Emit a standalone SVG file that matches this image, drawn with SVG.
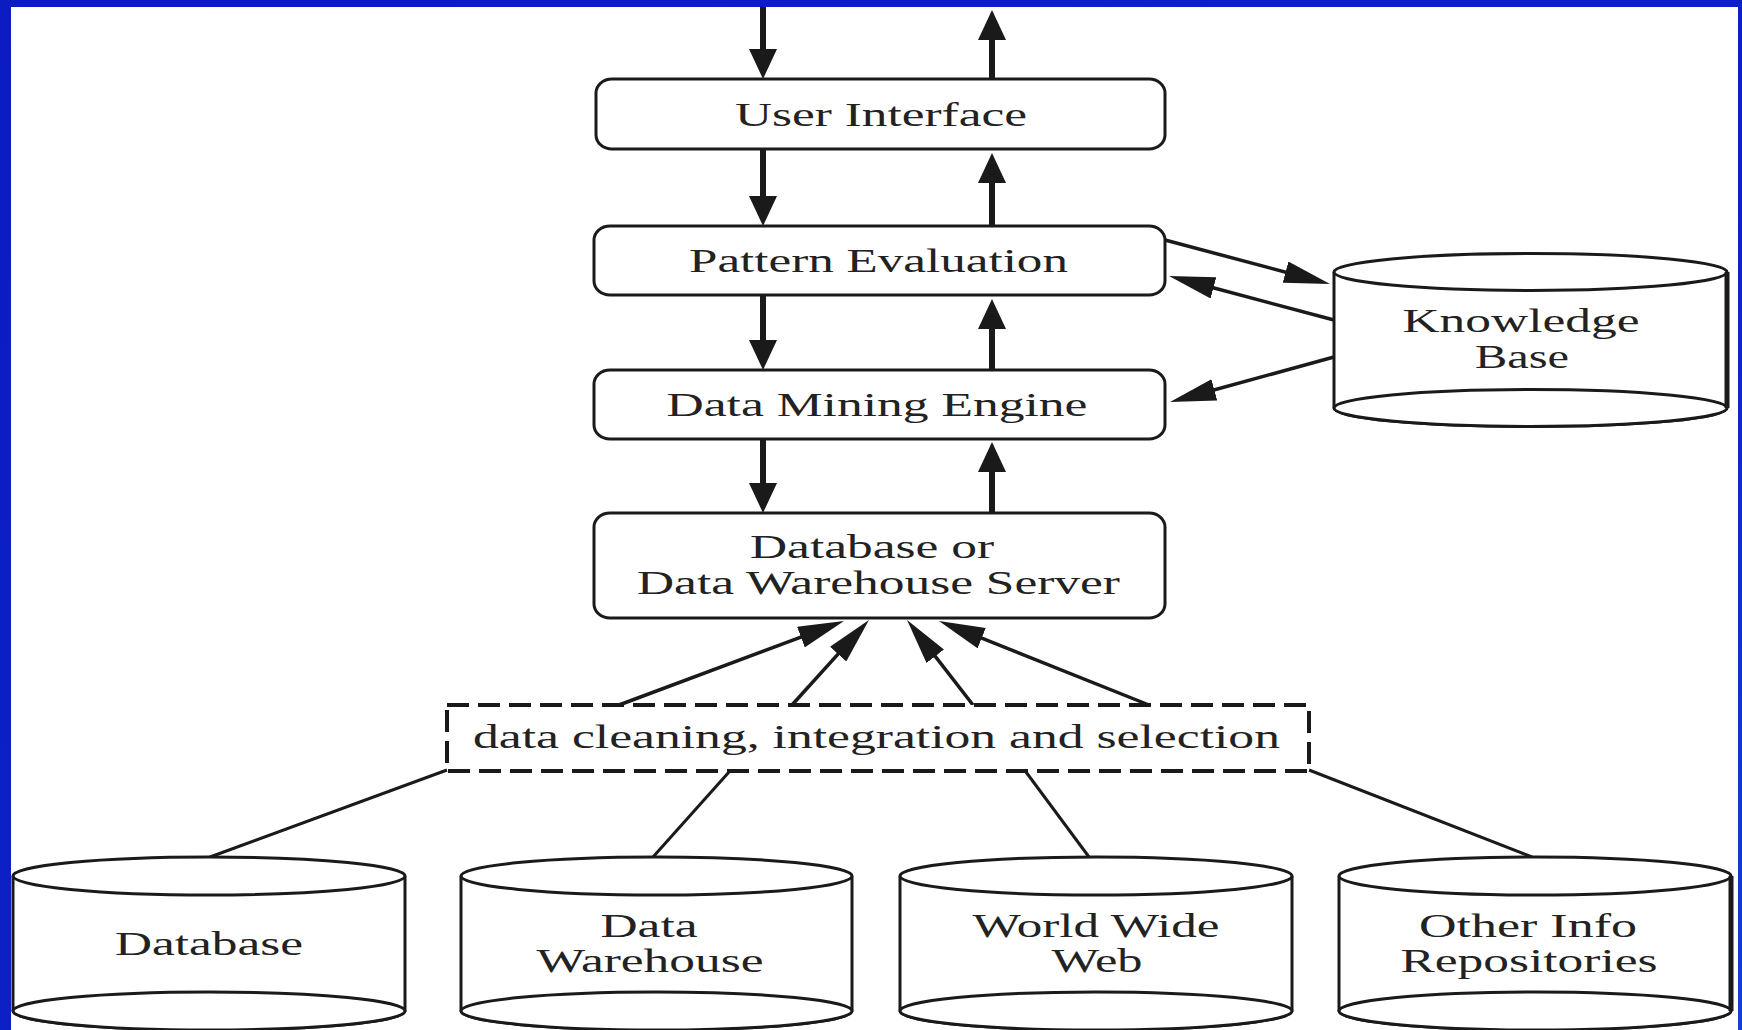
<svg xmlns="http://www.w3.org/2000/svg" width="1742" height="1030" viewBox="0 0 1742 1030">
<style>
.box{fill:#fff;stroke:#1a1a1a;stroke-width:3}
.cyl{fill:#fff;stroke:#1a1a1a;stroke-width:3}
.dash{fill:#fff;stroke:#1a1a1a;stroke-width:4;stroke-dasharray:22 9}
.t{font-family:"Liberation Serif","Times New Roman",serif;font-size:33px;fill:#222;text-anchor:middle}
.v{stroke:#1a1a1a;stroke-width:6;fill:none}
.d{stroke:#1a1a1a;stroke-width:3.5;fill:none}
.p{stroke:#1a1a1a;stroke-width:3;fill:none}
</style>
<defs>
<linearGradient id="bg" x1="0" y1="0" x2="1" y2="1">
<stop offset="0" stop-color="#0a1cc2"/>
<stop offset="0.6" stop-color="#0b22c6"/>
<stop offset="1" stop-color="#1440d0"/>
</linearGradient>
<marker id="vh" markerUnits="userSpaceOnUse" viewBox="0 0 30 28" markerWidth="30" markerHeight="28" refX="4" refY="14" orient="auto">
<path d="M0,0 L30,14 L0,28 z" fill="#1a1a1a"/>
</marker>
<marker id="dh" markerUnits="userSpaceOnUse" viewBox="0 0 46 22" markerWidth="46" markerHeight="22" refX="10" refY="11" orient="auto">
<path d="M0,0 L46,11 L0,22 z" fill="#1a1a1a"/>
</marker>
</defs>
<rect x="0" y="0" width="1742" height="1030" fill="url(#bg)"/>
<rect x="11" y="7" width="1727" height="1023" fill="#fff"/>

<g id="connectors">
<line class="v" x1="763" y1="7" x2="763" y2="53" marker-end="url(#vh)"/>
<line class="v" x1="992" y1="79" x2="992" y2="36" marker-end="url(#vh)"/>
<line class="v" x1="763" y1="149" x2="763" y2="200" marker-end="url(#vh)"/>
<line class="v" x1="992" y1="226" x2="992" y2="179" marker-end="url(#vh)"/>
<line class="v" x1="763" y1="295" x2="763" y2="344" marker-end="url(#vh)"/>
<line class="v" x1="992" y1="370" x2="992" y2="325" marker-end="url(#vh)"/>
<line class="v" x1="763" y1="439" x2="763" y2="487" marker-end="url(#vh)"/>
<line class="v" x1="992" y1="513" x2="992" y2="468" marker-end="url(#vh)"/>
<line class="d" x1="1165" y1="240" x2="1295.2" y2="274.7" marker-end="url(#dh)"/>
<line class="d" x1="1334" y1="320" x2="1203.8" y2="285.3" marker-end="url(#dh)"/>
<line class="d" x1="1334" y1="357" x2="1204.7" y2="392.5" marker-end="url(#dh)"/>
<line class="d" x1="619" y1="705" x2="810.3" y2="633.6" marker-end="url(#dh)"/>
<line class="d" x1="792" y1="705" x2="844.8" y2="646.7" marker-end="url(#dh)"/>
<line class="d" x1="973" y1="705" x2="929.1" y2="648.4" marker-end="url(#dh)"/>
<line class="d" x1="1149" y1="705" x2="972.4" y2="634.4" marker-end="url(#dh)"/>
<line class="p" x1="447" y1="770" x2="210" y2="857"/>
<line class="p" x1="729" y1="772" x2="653" y2="857"/>
<line class="p" x1="1026" y1="772" x2="1089" y2="857"/>
<line class="p" x1="1309" y1="770" x2="1532" y2="857"/>
</g>

<g id="user-interface">
<rect class="box" x="596" y="79" width="569" height="70" rx="16" ry="14"/>
<text class="t" x="881" y="126" textLength="292" lengthAdjust="spacingAndGlyphs">User Interface</text>
</g>
<g id="pattern-evaluation">
<rect class="box" x="594" y="226" width="571" height="69" rx="16" ry="14"/>
<text class="t" x="878.5" y="272" textLength="379" lengthAdjust="spacingAndGlyphs">Pattern Evaluation</text>
</g>
<g id="data-mining-engine">
<rect class="box" x="594" y="370" width="571" height="69" rx="16" ry="14"/>
<text class="t" x="877" y="416" textLength="421" lengthAdjust="spacingAndGlyphs">Data Mining Engine</text>
</g>
<g id="server">
<rect class="box" x="594" y="513" width="571" height="105" rx="16" ry="14"/>
<text class="t" x="872" y="558" textLength="244" lengthAdjust="spacingAndGlyphs">Database or</text>
<text class="t" x="878.5" y="594" textLength="483" lengthAdjust="spacingAndGlyphs">Data Warehouse Server</text>
</g>
<g id="knowledge-base">
<path class="cyl" d="M1334,272 L1334,408 A196.5,18.5 0 0 0 1727,408 L1727,272"/>
<ellipse class="cyl" cx="1530.5" cy="272" rx="196.5" ry="18.5"/>
<ellipse class="cyl" cx="1530.5" cy="408" rx="196.5" ry="18.5" fill="none"/>
<line x1="1727" y1="272" x2="1727" y2="408" stroke="#1a1a1a" stroke-width="5"/>
<text class="t" x="1521" y="332" textLength="237" lengthAdjust="spacingAndGlyphs">Knowledge</text>
<text class="t" x="1522" y="368" textLength="94" lengthAdjust="spacingAndGlyphs">Base</text>
</g>
<g id="data-cleaning">
<rect class="dash" x="447" y="705" width="862" height="66"/>
<text class="t" x="876.5" y="748" textLength="807" lengthAdjust="spacingAndGlyphs">data cleaning, integration and selection</text>
</g>
<g id="database">
<path class="cyl" d="M13,876 L13,1011 A196,19 0 0 0 405,1011 L405,876"/>
<ellipse class="cyl" cx="209" cy="876" rx="196" ry="19"/>
<ellipse class="cyl" cx="209" cy="1011" rx="196" ry="19" fill="none"/>
<text class="t" x="209" y="955" textLength="188" lengthAdjust="spacingAndGlyphs">Database</text>
</g>
<g id="data-warehouse">
<path class="cyl" d="M461,876 L461,1011 A195.5,19 0 0 0 852,1011 L852,876"/>
<ellipse class="cyl" cx="656.5" cy="876" rx="195.5" ry="19"/>
<ellipse class="cyl" cx="656.5" cy="1011" rx="195.5" ry="19" fill="none"/>
<text class="t" x="649" y="937" textLength="97" lengthAdjust="spacingAndGlyphs">Data</text>
<text class="t" x="650" y="972" textLength="227" lengthAdjust="spacingAndGlyphs">Warehouse</text>
</g>
<g id="world-wide-web">
<path class="cyl" d="M900,876 L900,1011 A196,19 0 0 0 1292,1011 L1292,876"/>
<ellipse class="cyl" cx="1096" cy="876" rx="196" ry="19"/>
<ellipse class="cyl" cx="1096" cy="1011" rx="196" ry="19" fill="none"/>
<text class="t" x="1096" y="937" textLength="247" lengthAdjust="spacingAndGlyphs">World Wide</text>
<text class="t" x="1097" y="972" textLength="91" lengthAdjust="spacingAndGlyphs">Web</text>
</g>
<g id="other-info">
<path class="cyl" d="M1339,876 L1339,1011 A196,19 0 0 0 1731,1011 L1731,876"/>
<ellipse class="cyl" cx="1535" cy="876" rx="196" ry="19"/>
<ellipse class="cyl" cx="1535" cy="1011" rx="196" ry="19" fill="none"/>
<line x1="1731" y1="876" x2="1731" y2="1011" stroke="#1a1a1a" stroke-width="5"/>
<text class="t" x="1528" y="937" textLength="218" lengthAdjust="spacingAndGlyphs">Other Info</text>
<text class="t" x="1529" y="972" textLength="257" lengthAdjust="spacingAndGlyphs">Repositories</text>
</g>
</svg>
